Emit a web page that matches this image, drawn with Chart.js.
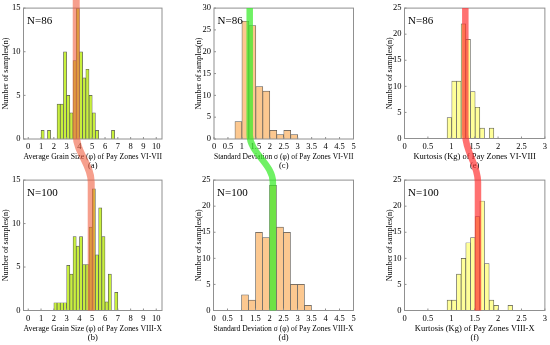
<!DOCTYPE html>
<html>
<head>
<meta charset="utf-8">
<script src="https://cdn.jsdelivr.net/npm/chart.js@4/dist/chart.umd.min.js"></script>
<style>
  html, body { margin: 0; padding: 0; background: #fff; }
  #page { position: relative; width: 550px; height: 345px; overflow: hidden; }
  #page canvas { position: absolute; }
  #bands { pointer-events: none; }
</style>
</head>
<body>
<div id="page">
  <canvas id="chartA" width="170" height="172" style="left:0px;top:0px"></canvas>
  <canvas id="chartB" width="170" height="173" style="left:0px;top:172px"></canvas>
  <canvas id="chartC" width="175" height="172" style="left:185px;top:0px"></canvas>
  <canvas id="chartD" width="175" height="173" style="left:185px;top:172px"></canvas>
  <canvas id="chartE" width="175" height="172" style="left:375px;top:0px"></canvas>
  <canvas id="chartF" width="175" height="173" style="left:375px;top:172px"></canvas>
  <canvas id="bands" width="550" height="345" style="left:0px;top:0px"></canvas>
</div>
<script>
'use strict';
// データ
// 平均粒径 (a)(b) : 階級の下限 (幅 0.25)
const grainBinsA = [1.0, 1.5, 2.25, 2.5, 2.75, 3.0, 3.25, 3.5, 3.75, 4.0, 4.25, 4.5, 4.75, 5.0, 5.25, 6.5];
const grainCountsA = [1, 1, 4, 4, 10, 5, 3, 9, 15, 10, 7, 8, 5, 3, 1, 1];
const grainBinsB = [2.0, 2.25, 2.5, 2.75, 3.0, 3.25, 3.5, 3.75, 4.0, 4.25, 4.5, 4.75, 5.0, 5.25, 5.5, 5.75, 6.0, 6.25, 6.75];
const grainCountsB = [0.9, 0.9, 0.9, 0.9, 5.2, 4.2, 8.5, 7.4, 8.5, 5.3, 5.3, 9.6, 14, 6.4, 11.8, 8.5, 1, 4.2, 2.1];

// 標準偏差 (c)(d) : 幅 0.25
const sortBinsC = [0.75, 1.0, 1.25, 1.5, 1.75, 2.0, 2.25, 2.5, 2.75];
const sortCountsC = [4, 27, 26, 12, 11, 2, 1, 2, 1];
const sortBinsD = [1.0, 1.25, 1.5, 1.75, 2.0, 2.25, 2.5, 2.75, 3.0, 3.25];
const sortCountsD = [3, 2, 15, 14, 24, 16, 15, 5, 5, 1];

// 尖度 (e)(f) : 幅 0.1
const kurtBinsE = [0.91, 1.01, 1.11, 1.21, 1.31, 1.41, 1.51, 1.61, 1.81];
const kurtCountsE = [4, 11, 11, 22, 19, 9, 6, 2, 2];
const kurtBinsF = [0.91, 1.01, 1.11, 1.21, 1.31, 1.41, 1.51, 1.61, 1.71, 1.81, 1.91, 2.21];
const kurtCountsF = [2, 2, 7, 10, 13, 14, 18, 21, 9, 2, 1, 1];

// 目盛り
const grainTicks = [0, 1, 2, 3, 4, 5, 6, 7, 8, 9, 10];
const sortTicks = [0, 0.5, 1, 1.5, 2, 2.5, 3, 3.5, 4, 4.5, 5];
const kurtTicks = [0, 0.5, 1, 1.5, 2, 2.5, 3];
const yTicks15 = [0, 5, 10, 15];
const yTicks25 = [0, 5, 10, 15, 20, 25];
const yTicks30 = [0, 5, 10, 15, 20, 25, 30];

// ラベル
const xTitles = [
  'Average Grain Size (\u03c6) of Pay Zones VI-VII',
  'Average Grain Size (\u03c6) of Pay Zones VIII-X',
  'Standard Deviation \u03c3 (\u03c6) of Pay Zones VI-VII',
  'Standard Deviation \u03c3 (\u03c6) of Pay Zones VIII-X',
  'Kurtosis (Kg) of Pay Zones VI-VIII',
  'Kurtosis (Kg) of Pay Zones VIII-X',
];
const panelTags = ['(a)', '(b)', '(c)', '(d)', '(e)', '(f)'];
const nLabels = ['N=86', 'N=100', 'N=86', 'N=100', 'N=86', 'N=100'];
const yTitle = 'Number of samples(n)';

// 上下をつなぐ帯 (上のパネルの値, 下のパネルの値)
const bandGrain = [3.75, 4.92];
const bandSort = [1.28, 2.12];
const bandKurt = [1.3, 1.57];

const FONT = 'Liberation Serif';
const COLORS = { grain: '#c8f03c', sort: '#fcc890', kurt: '#ffff99' };

// 枠・内向き目盛り・N の表示
const framePlugin = {
  id: 'frame',
  afterDatasetsDraw(chart, args, opts) {
    const { ctx, chartArea: a, scales } = chart;
    ctx.save();
    ctx.strokeStyle = '#909090';
    ctx.lineWidth = 1;
    ctx.strokeRect(a.left, a.top, a.right - a.left, a.bottom - a.top);
    ctx.beginPath();
    scales.x.ticks.forEach(t => {
      const px = scales.x.getPixelForValue(t.value);
      ctx.moveTo(px, a.bottom);
      ctx.lineTo(px, a.bottom - 2);
    });
    scales.y.ticks.forEach(t => {
      const py = scales.y.getPixelForValue(t.value);
      ctx.moveTo(a.left, py);
      ctx.lineTo(a.left + 2, py);
    });
    ctx.stroke();
    ctx.fillStyle = '#000';
    ctx.font = `11px "${FONT}"`;
    ctx.textBaseline = 'middle';
    ctx.fillText(opts.label, a.left + 3.5, a.top + 13);
    ctx.restore();
  },
};

// ヒストグラムの作成
function makeHist(p) {
  const data = p.bins.map((b, i) => ({ x: b + p.binWidth / 2, y: p.counts[i] }));
  return new Chart(document.getElementById(p.id), {
    type: 'bar',
    data: {
      datasets: [
        {
          data: data,
          backgroundColor: p.color,
          borderColor: '#555555',
          borderWidth: 0.7,
          borderSkipped: 'start',
          barPercentage: 1,
          categoryPercentage: 1,
          inflateAmount: 0.3,
        },
      ],
    },
    options: {
      responsive: false,
      animation: false,
      devicePixelRatio: 1,
      layout: { padding: { left: 0, right: p.padRight, top: p.padTop, bottom: 0 } },
      plugins: {
        legend: { display: false },
        tooltip: { enabled: false },
        frame: { label: p.nLabel },
      },
      scales: {
        x: {
          type: 'linear',
          min: p.xMin,
          max: p.xMax,
          offset: false,
          grid: { display: false, drawTicks: false },
          border: { display: false },
          afterBuildTicks: s => { s.ticks = p.xTicks.map(v => ({ value: v })); },
          afterFit: s => { s.height = p.xAxisH; },
          ticks: {
            autoSkip: false,
            maxRotation: 0,
            padding: 3,
            color: '#000',
            font: { family: FONT, size: 8.5 },
            callback: v => String(v),
          },
          title: {
            display: true,
            text: [p.xTitle, p.tag],
            color: '#000',
            font: { family: FONT, size: 8.5, lineHeight: 1.06 },
            padding: { top: 0, bottom: p.titlePadB },
          },
        },
        y: {
          min: 0,
          max: p.yMax,
          grid: { display: false, drawTicks: false },
          border: { display: false },
          afterBuildTicks: s => { s.ticks = p.yTicks.map(v => ({ value: v })); },
          afterFit: s => { s.width = p.yAxisW; },
          ticks: {
            padding: 3,
            color: '#000',
            font: { family: FONT, size: 8.5 },
            callback: v => String(v),
          },
          title: {
            display: true,
            text: yTitle,
            color: '#000',
            font: { family: FONT, size: 8 },
            padding: { top: p.yTitlePad, bottom: 0 },
          },
        },
      },
    },
    plugins: [framePlugin],
  });
}

const chartA = makeHist({
  id: 'chartA', bins: grainBinsA, counts: grainCountsA, binWidth: 0.25, color: COLORS.grain,
  xMin: -0.37, xMax: 10.45, xTicks: grainTicks, yMax: 15, yTicks: yTicks15,
  xTitle: xTitles[0], tag: panelTags[0], nLabel: nLabels[0],
  padTop: 5.5, padRight: 8, yAxisW: 23.5, xAxisH: 33, titlePadB: 1.5, yTitlePad: 1.5,
});
const chartB = makeHist({
  id: 'chartB', bins: grainBinsB, counts: grainCountsB, binWidth: 0.25, color: COLORS.grain,
  xMin: -0.37, xMax: 10.45, xTicks: grainTicks, yMax: 15, yTicks: yTicks15,
  xTitle: xTitles[1], tag: panelTags[1], nLabel: nLabels[1],
  padTop: 6.5, padRight: 8, yAxisW: 23.5, xAxisH: 34.5, titlePadB: 3, yTitlePad: 1.5,
});
const chartC = makeHist({
  id: 'chartC', bins: sortBinsC, counts: sortCountsC, binWidth: 0.25, color: COLORS.sort,
  xMin: 0, xMax: 5, xTicks: sortTicks, yMax: 30, yTicks: yTicks30,
  xTitle: xTitles[2], tag: panelTags[2], nLabel: nLabels[2],
  padTop: 6, padRight: 6.5, yAxisW: 29, xAxisH: 33, titlePadB: 1.5, yTitlePad: 8.8,
});
const chartD = makeHist({
  id: 'chartD', bins: sortBinsD, counts: sortCountsD, binWidth: 0.25, color: COLORS.sort,
  xMin: 0, xMax: 5, xTicks: sortTicks, yMax: 25, yTicks: yTicks25,
  xTitle: xTitles[3], tag: panelTags[3], nLabel: nLabels[3],
  padTop: 6.5, padRight: 6.5, yAxisW: 28.5, xAxisH: 34.5, titlePadB: 3, yTitlePad: 8.8,
});
const chartE = makeHist({
  id: 'chartE', bins: kurtBinsE, counts: kurtCountsE, binWidth: 0.1, color: COLORS.kurt,
  xMin: 0, xMax: 3, xTicks: kurtTicks, yMax: 25, yTicks: yTicks25,
  xTitle: xTitles[4], tag: panelTags[4], nLabel: nLabels[4],
  padTop: 6, padRight: 5, yAxisW: 29.5, xAxisH: 33.5, titlePadB: 1.5, yTitlePad: 9.8,
});
const chartF = makeHist({
  id: 'chartF', bins: kurtBinsF, counts: kurtCountsF, binWidth: 0.1, color: COLORS.kurt,
  xMin: 0, xMax: 3, xTicks: kurtTicks, yMax: 25, yTicks: yTicks25,
  xTitle: xTitles[5], tag: panelTags[5], nLabel: nLabels[5],
  padTop: 6.5, padRight: 5, yAxisW: 29.5, xAxisH: 34.5, titlePadB: 3, yTitlePad: 9.8,
});

// 帯の描画 (上下のパネルのスケールから位置を求める)
function drawBand(upper, lower, values, color, width, fromEdge) {
  const ctx = document.getElementById('bands').getContext('2d');
  const cu = upper.canvas;
  const cl = lower.canvas;
  const x1 = cu.offsetLeft + upper.scales.x.getPixelForValue(values[0]);
  const y0 = fromEdge ? 0 : cu.offsetTop + upper.chartArea.top;
  const y1 = cu.offsetTop + upper.chartArea.bottom;
  const x2 = cl.offsetLeft + lower.scales.x.getPixelForValue(values[1]);
  const y2 = cl.offsetTop + lower.chartArea.top;
  const y3 = cl.offsetTop + lower.scales.y.getPixelForValue(0);
  ctx.save();
  ctx.strokeStyle = color;
  ctx.lineWidth = width;
  ctx.lineCap = 'butt';
  ctx.lineJoin = 'round';
  ctx.beginPath();
  ctx.moveTo(x1, y0);
  ctx.lineTo(x1, y1 - 4);
  ctx.bezierCurveTo(x1, y1 + 14, x2, y2 - 16, x2, y2 + 2);
  ctx.lineTo(x2, y3);
  ctx.stroke();
  ctx.restore();
}

drawBand(chartA, chartB, bandGrain, 'rgba(240, 95, 65, 0.6)', 7, true);
drawBand(chartC, chartD, bandSort, 'rgba(55, 235, 40, 0.72)', 6.5, false);
drawBand(chartE, chartF, bandKurt, 'rgba(255, 45, 45, 0.68)', 6.5, false);
</script>
</body>
</html>
